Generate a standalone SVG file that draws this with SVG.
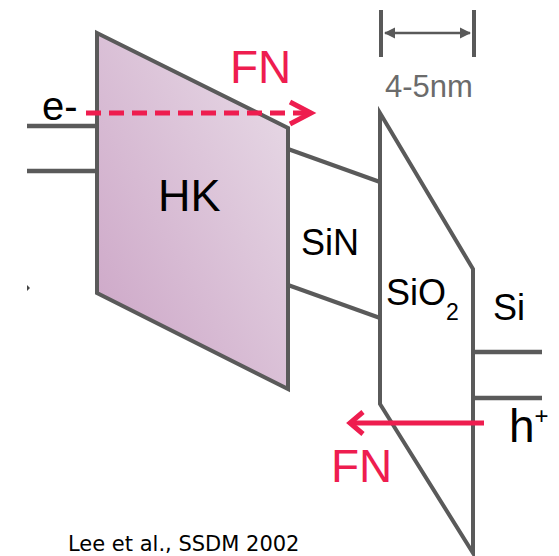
<svg xmlns="http://www.w3.org/2000/svg" width="559" height="556" viewBox="0 0 559 556">
<defs>
<linearGradient id="hkGrad" x1="1" y1="0" x2="0" y2="1">
<stop offset="0" stop-color="#E9DDE8"/>
<stop offset="1" stop-color="#CBA3C5"/>
</linearGradient>
<marker id="dimArrow" viewBox="0 0 10 10" refX="9" refY="5" markerWidth="4.5" markerHeight="4.5" orient="auto-start-reverse">
<path d="M0,0 L10,5 L0,10 z" fill="#595959"/>
</marker>
</defs>
<style>
.band{fill:none;stroke:#5a5a5a;stroke-width:4;stroke-linejoin:miter}
.lvl{stroke:#5a5a5a;stroke-width:4.5}
.lbl{font-family:"Liberation Sans",Arial,sans-serif;fill:#000}
.fn{font-family:"Liberation Sans",Arial,sans-serif;fill:#EE1D4F;font-size:46px}
.red{stroke:#EE1D4F;stroke-width:5;fill:none;stroke-linecap:butt}
</style>
<rect width="559" height="556" fill="#fff"/>
<g id="gate-levels">
<line class="lvl" x1="27" y1="126" x2="97" y2="126"/>
<line class="lvl" x1="27" y1="171" x2="97" y2="171"/>
</g>
<g id="HK">
<polygon points="97,33 288,128 288,389 97,293" fill="url(#hkGrad)" stroke="#5a5a5a" stroke-width="4"/>
<text class="lbl" x="158" y="211" font-size="45">HK</text>
</g>
<g id="SiN">
<polyline class="band" points="288,149 380,182"/>
<polyline class="band" points="288,285 380,318"/>
<text class="lbl" x="301" y="255" font-size="36">SiN</text>
</g>
<g id="SiO2">
<polygon class="band" points="380,113 473,269 473,553 380,404"/>
<text class="lbl" x="386" y="305" font-size="36">SiO<tspan font-size="23" dy="15">2</tspan></text>
</g>
<g id="Si">
<line class="lvl" x1="473" y1="352" x2="542" y2="352"/>
<line class="lvl" x1="473" y1="398" x2="542" y2="398"/>
<text class="lbl" x="493" y="320" font-size="36">Si</text>
</g>
<g id="dimension">
<line x1="381" y1="10" x2="381" y2="57" stroke="#595959" stroke-width="4"/>
<line x1="474" y1="10" x2="474" y2="57" stroke="#595959" stroke-width="4"/>
<line x1="385" y1="33" x2="470" y2="33" stroke="#595959" stroke-width="2.5" marker-start="url(#dimArrow)" marker-end="url(#dimArrow)"/>
<text x="385" y="97" font-family="'Liberation Sans',Arial,sans-serif" font-size="31" fill="#6b6b6b">4-5nm</text>
</g>
<g id="connectors">
<line class="red" x1="86" y1="113" x2="308" y2="113" stroke-dasharray="15,8"/>
<polyline class="red" points="290,102 311,113 290,124"/>
<line class="red" x1="484" y1="423" x2="352" y2="423"/>
<polyline class="red" points="363,412 350,423 363,434"/>
</g>
<g id="labels">
<text class="lbl" x="42" y="120" font-size="40">e-</text>
<text class="fn" x="230" y="83">FN</text>
<text class="fn" x="331" y="482">FN</text>
<text class="lbl" x="509" y="442" font-size="46">h<tspan font-size="24" dy="-18">+</tspan></text>
<polygon points="27,285 30,288 27,291" fill="#444"/>
<text x="68" y="551" font-family="'DejaVu Sans',Verdana,sans-serif" font-size="21" fill="#000">Lee et al., SSDM 2002</text>
</g>
</svg>
